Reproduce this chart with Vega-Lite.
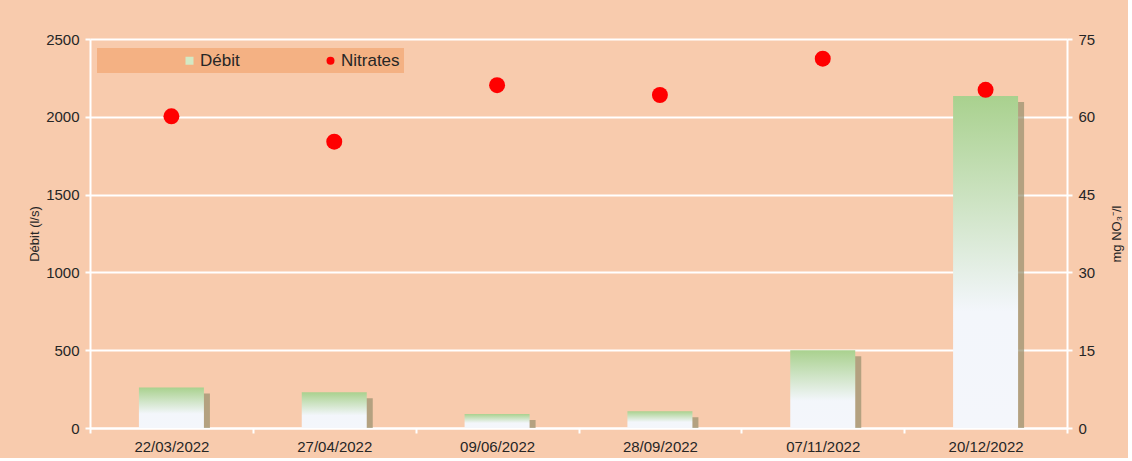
{
  "$schema": "https://vega.github.io/schema/vega-lite/v6.json",
  "width": 977,
  "height": 389,
  "padding": {"left": 28, "top": 32, "right": 4, "bottom": 4},
  "background": "#F8CBAD",
  "config": {
    "view": {"stroke": null},
    "font": "Liberation Sans",
    "axis": {
      "labelFont": "Liberation Sans",
      "labelFontSize": 15,
      "labelColor": "#262626",
      "titleFont": "Liberation Sans",
      "titleFontSize": 13,
      "titleFontWeight": "normal",
      "titleColor": "#262626",
      "domainColor": "white",
      "domainWidth": 2,
      "tickColor": "white",
      "tickWidth": 2,
      "tickSize": 5,
      "gridColor": "white",
      "gridWidth": 2,
      "gridOpacity": 1
    },
    "legend": {
      "labelFont": "Liberation Sans",
      "labelFontSize": 17,
      "labelColor": "#262626"
    }
  },
  "data": {
    "values": [
      {"date": "22/03/2022", "debit": 260, "nitrates": 60.1},
      {"date": "27/04/2022", "debit": 230, "nitrates": 55.2},
      {"date": "09/06/2022", "debit": 90, "nitrates": 66.1},
      {"date": "28/09/2022", "debit": 108, "nitrates": 64.2},
      {"date": "07/11/2022", "debit": 500, "nitrates": 71.2},
      {"date": "20/12/2022", "debit": 2133, "nitrates": 65.2}
    ]
  },
  "encoding": {
    "x": {
      "field": "date",
      "type": "ordinal",
      "sort": null,
      "scale": {"paddingInner": 0, "paddingOuter": 0},
      "axis": {"title": null, "labelAngle": 0, "tickBand": "extent", "labelPadding": 6, "grid": false}
    }
  },
  "layer": [
    {
      "layer": [
        {
          "mark": {"type": "bar", "size": 65, "color": "#978F6C", "opacity": 0.7, "xOffset": 6, "yOffset": 6, "clip": true},
          "encoding": {
            "y": {"field": "debit", "type": "quantitative"}
          }
        },
        {
          "mark": {
            "type": "bar",
            "size": 65,
            "color": {"gradient": "linear", "x1": 0, "y1": 0, "x2": 0, "y2": 1, "stops": [
              {"offset": 0, "color": "#A9D18E"},
              {"offset": 0.65, "color": "#F3F6FB"},
              {"offset": 1, "color": "#F4F6FB"}
            ]}
          },
          "encoding": {
            "y": {
              "field": "debit",
              "type": "quantitative",
              "scale": {"domain": [0, 2500], "nice": false},
              "axis": {"title": "Débit (l/s)", "format": "d", "values": [0, 500, 1000, 1500, 2000, 2500], "grid": true, "labelPadding": 6, "titlePadding": 4}
            }
          }
        }
      ]
    },
    {
      "mark": {"type": "point", "filled": true, "size": 255, "opacity": 1},
      "encoding": {
        "y": {
          "field": "nitrates",
          "type": "quantitative",
          "scale": {"domain": [0, 75], "nice": false},
          "axis": {"title": "mg NO₃⁻/l", "orient": "right", "values": [0, 15, 30, 45, 60, 75], "grid": false, "titleAngle": -90, "labelPadding": 6, "titlePadding": 29}
        },
        "color": {
          "datum": "Nitrates",
          "scale": {"domain": ["Débit", "Nitrates"], "range": ["#D3E9C4", "#FF0000"]},
          "legend": {
            "orient": "none",
            "legendX": 7,
            "legendY": 9,
            "direction": "horizontal",
            "fillColor": "#F4B183",
            "title": " ",
            "titleOrient": "left",
            "titlePadding": 80,
            "padding": 4,
            "columnPadding": 82,
            "symbolSize": 64,
            "symbolStrokeWidth": 0,
            "labelOffset": 2
          }
        },
        "shape": {
          "datum": "Nitrates",
          "scale": {"domain": ["Débit", "Nitrates"], "range": ["square", "circle"]},
          "legend": {
            "orient": "none",
            "legendX": 7,
            "legendY": 9,
            "direction": "horizontal",
            "fillColor": "#F4B183",
            "title": " ",
            "titleOrient": "left",
            "titlePadding": 80,
            "padding": 4,
            "columnPadding": 82,
            "symbolSize": 64,
            "symbolStrokeWidth": 0,
            "labelOffset": 2
          }
        }
      }
    }
  ],
  "resolve": {"scale": {"y": "independent"}}
}
